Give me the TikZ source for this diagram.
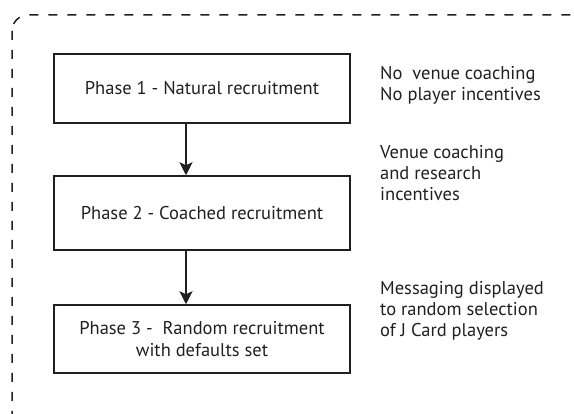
\documentclass[tikz,border=0pt]{standalone}
\usepackage{fontspec}
\setmainfont{PT Sans}
\usepackage{tikz}
\usetikzlibrary{arrows.meta}

\definecolor{ink}{HTML}{231F20}

\begin{document}
\begin{tikzpicture}[x=1pt, y=-1pt, >={Stealth[length=13pt, width=13pt, inset=3pt]},
    phase/.style={draw=ink, line width=1.5pt, minimum width=296pt, align=center,
        inner sep=0pt, text=ink, font=\fontsize{18.5}{22}\selectfont},
    note/.style={anchor=west, align=left, inner sep=0pt, text=ink,
        font=\fontsize{18.5}{21}\selectfont},
    flow/.style={->, line width=1.5pt, draw=ink, fill=ink}]
    \useasboundingbox (0,0) rectangle (574,414);

    % dashed frame, runs off the right and bottom
    \begin{scope}
        \clip (0,0) rectangle (574,414);
        \draw[ink, line width=1.5pt, dash pattern=on 9pt off 10pt, rounded corners=16pt]
            (12,15) rectangle (590,428);
    \end{scope}

    % phases
    \node[phase, minimum height=69pt] (p1) at (202,88.5) {Phase 1 - Natural recruitment};
    \node[phase, minimum height=74pt] (p2) at (202,213) {Phase 2 - Coached recruitment};
    \node[phase, minimum height=68pt] (p3) at (202,339) {Phase 3 -\ \ Random recruitment\\with defaults set};

    \draw[flow] ([xshift=-16pt]p1.south) -- ([xshift=-16pt]p2.north);
    \draw[flow] ([xshift=-16pt]p2.south) -- ([xshift=-16pt]p3.north);

    % what each phase involves
    \node[note] (n1) at (380,85.5) {No\ \ venue coaching\\No player incentives};
    \node[note] (n2) at (380,173) {Venue coaching\\and research\\incentives};
    \node[note] (n3) at (380,311) {Messaging displayed\\to random selection\\of J Card players};
\end{tikzpicture}
\end{document}
